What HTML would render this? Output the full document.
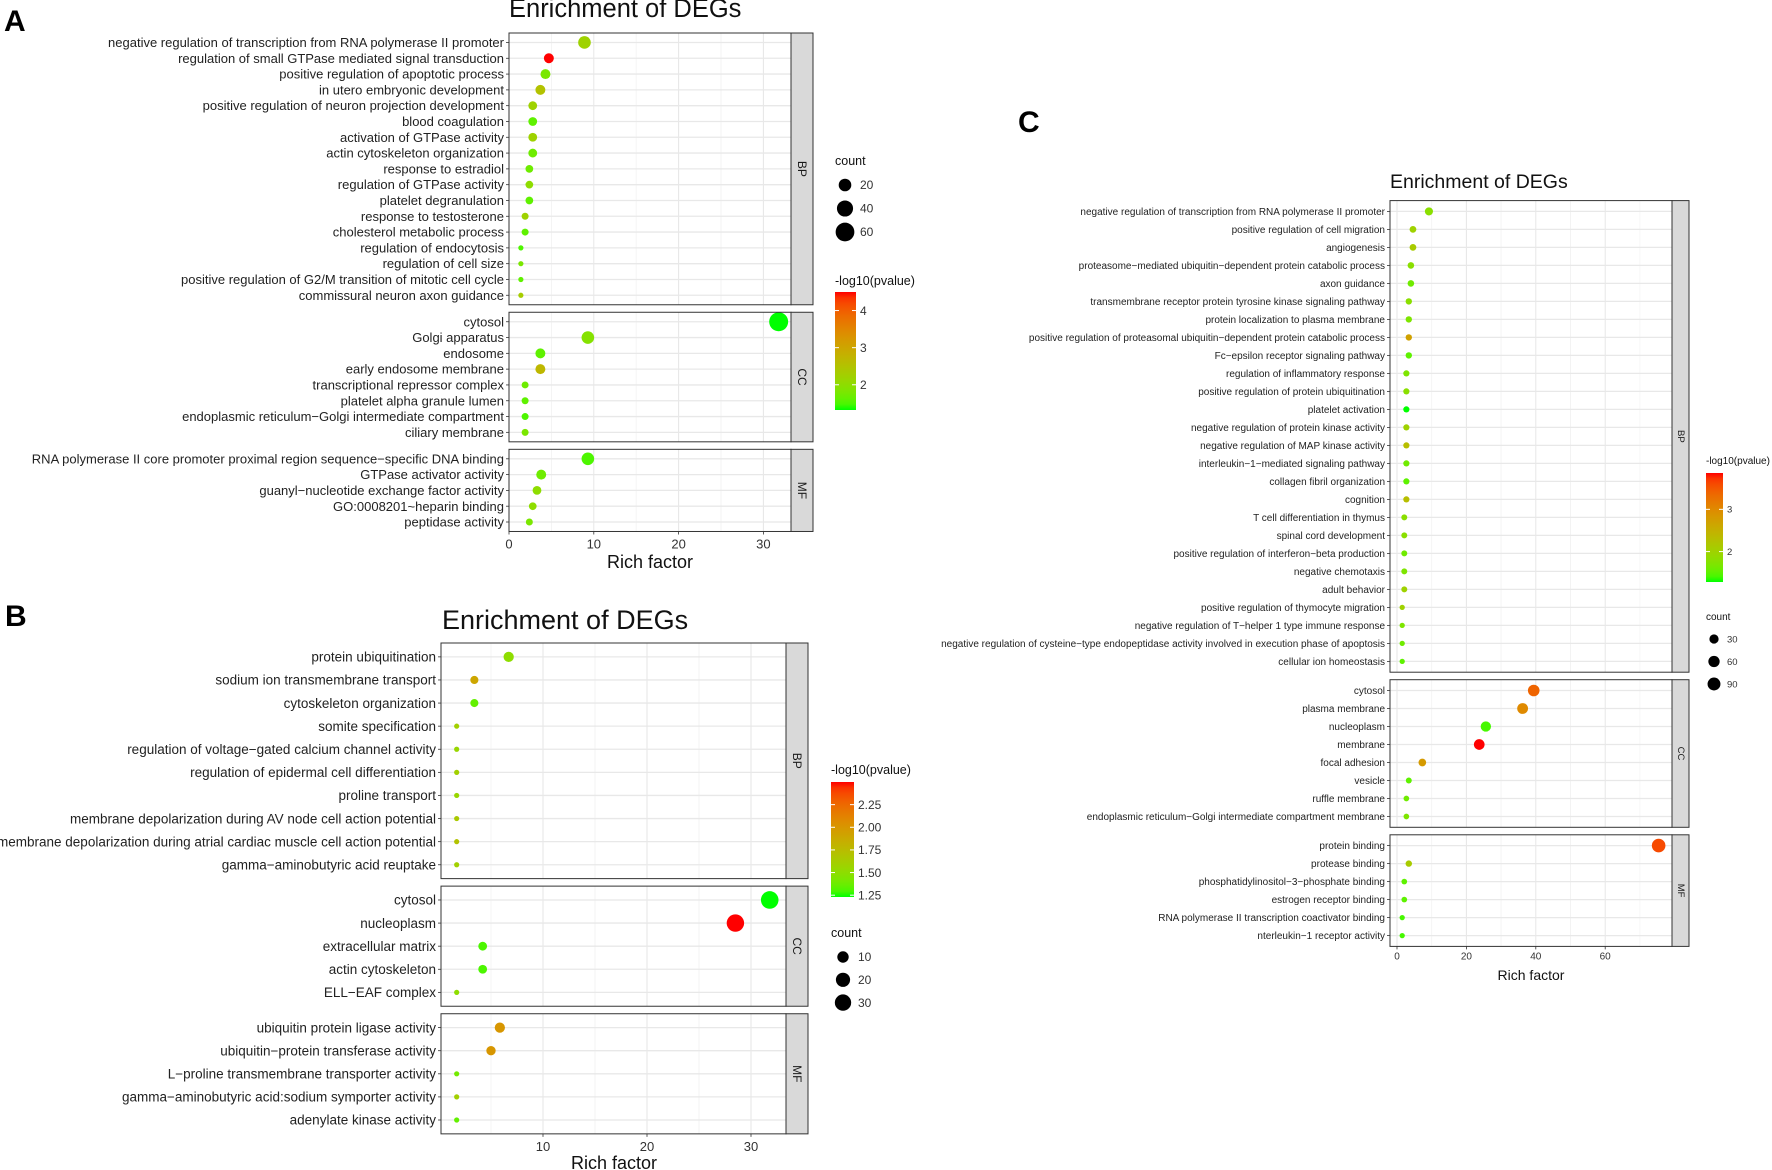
<!DOCTYPE html>
<html><head><meta charset="utf-8"><title>Enrichment of DEGs</title>
<style>html,body{margin:0;padding:0;background:#fff}svg{display:block;font-family:"Liberation Sans",Arial,sans-serif}</style>
</head><body>
<svg id="fig" width="1772" height="1170" viewBox="0 0 1772 1170" xmlns="http://www.w3.org/2000/svg">
<rect width="1772" height="1170" fill="#fff"/>
<text x="4" y="31" font-size="30" font-weight="bold">A</text>
<text x="5" y="626" font-size="30" font-weight="bold">B</text>
<text x="1018" y="132" font-size="30" font-weight="bold">C</text>
</svg>
<script>
// ===== Chart A data =====
const aTerms = ["negative regulation of transcription from RNA polymerase II promoter","regulation of small GTPase mediated signal transduction","positive regulation of apoptotic process","in utero embryonic development","positive regulation of neuron projection development","blood coagulation","activation of GTPase activity","actin cytoskeleton organization","response to estradiol","regulation of GTPase activity","platelet degranulation","response to testosterone","cholesterol metabolic process","regulation of endocytosis","regulation of cell size","positive regulation of G2/M transition of mitotic cell cycle","commissural neuron axon guidance","cytosol","Golgi apparatus","endosome","early endosome membrane","transcriptional repressor complex","platelet alpha granule lumen","endoplasmic reticulum−Golgi intermediate compartment","ciliary membrane","RNA polymerase II core promoter proximal region sequence−specific DNA binding","GTPase activator activity","guanyl−nucleotide exchange factor activity","GO:0008201~heparin binding","peptidase activity"];
const aCategory = ["BP","BP","BP","BP","BP","BP","BP","BP","BP","BP","BP","BP","BP","BP","BP","BP","BP","CC","CC","CC","CC","CC","CC","CC","CC","MF","MF","MF","MF","MF"];
const aRich = [8.9,4.7,4.3,3.7,2.8,2.8,2.8,2.8,2.4,2.4,2.4,1.9,1.9,1.4,1.4,1.4,1.4,31.8,9.3,3.7,3.7,1.9,1.9,1.9,1.9,9.3,3.8,3.3,2.8,2.4];
const aCount = [20,10,10,10,7,7,7,7,5,5,5,4,4,3,3,3,3,62,20,10,10,4,4,4,4,20,10,7,5,4];
const aLogP = [2.2,4.5,1.8,2.5,2.2,1.6,2.2,1.7,1.7,2.0,1.6,2.2,1.6,1.5,1.8,1.6,2.3,1.32,1.9,1.6,2.7,1.7,1.6,1.5,1.8,1.5,1.7,2.0,2.0,1.8];
const aXTicks = [0,10,20,30];
const aColorTicks = [2,3,4];
const aSizeBreaks = [20,40,60];

// ===== Chart B data =====
const bTerms = ["protein ubiquitination","sodium ion transmembrane transport","cytoskeleton organization","somite specification","regulation of voltage−gated calcium channel activity","regulation of epidermal cell differentiation","proline transport","membrane depolarization during AV node cell action potential","membrane depolarization during atrial cardiac muscle cell action potential","gamma−aminobutyric acid reuptake","cytosol","nucleoplasm","extracellular matrix","actin cytoskeleton","ELL−EAF complex","ubiquitin protein ligase activity","ubiquitin−protein transferase activity","L−proline transmembrane transporter activity","gamma−aminobutyric acid:sodium symporter activity","adenylate kinase activity"];
const bCategory = ["BP","BP","BP","BP","BP","BP","BP","BP","BP","BP","CC","CC","CC","CC","CC","MF","MF","MF","MF","MF"];
const bRich = [6.7,3.4,3.4,1.7,1.7,1.7,1.7,1.7,1.7,1.7,31.8,28.5,4.2,4.2,1.7,5.85,5.0,1.7,1.7,1.7];
const bCount = [7,3,3,1,1,1,1,1,1,1,37,36,4,4,1,7,5,1,1,1];
const bLogP = [1.5,1.9,1.35,1.6,1.55,1.6,1.55,1.65,1.7,1.6,1.23,2.5,1.3,1.3,1.5,2.0,2.0,1.4,1.6,1.35];
const bXTicks = [10,20,30];
const bColorTicks = [1.25,1.5,1.75,2.0,2.25];
const bSizeBreaks = [10,20,30];

// ===== Chart C data =====
const cTerms = ["negative regulation of transcription from RNA polymerase II promoter","positive regulation of cell migration","angiogenesis","proteasome−mediated ubiquitin−dependent protein catabolic process","axon guidance","transmembrane receptor protein tyrosine kinase signaling pathway","protein localization to plasma membrane","positive regulation of proteasomal ubiquitin−dependent protein catabolic process","Fc−epsilon receptor signaling pathway","regulation of inflammatory response","positive regulation of protein ubiquitination","platelet activation","negative regulation of protein kinase activity","negative regulation of MAP kinase activity","interleukin−1−mediated signaling pathway","collagen fibril organization","cognition","T cell differentiation in thymus","spinal cord development","positive regulation of interferon−beta production","negative chemotaxis","adult behavior","positive regulation of thymocyte migration","negative regulation of T−helper 1 type immune response","negative regulation of cysteine−type endopeptidase activity involved in execution phase of apoptosis","cellular ion homeostasis","cytosol","plasma membrane","nucleoplasm","membrane","focal adhesion","vesicle","ruffle membrane","endoplasmic reticulum−Golgi intermediate compartment membrane","protein binding","protease binding","phosphatidylinositol−3−phosphate binding","estrogen receptor binding","RNA polymerase II transcription coactivator binding","nterleukin−1 receptor activity"];
const cCategory = ["BP","BP","BP","BP","BP","BP","BP","BP","BP","BP","BP","BP","BP","BP","BP","BP","BP","BP","BP","BP","BP","BP","BP","BP","BP","BP","CC","CC","CC","CC","CC","CC","CC","CC","MF","MF","MF","MF","MF","MF"];
const cRich = [9.2,4.6,4.6,4.0,4.0,3.4,3.4,3.4,3.4,2.7,2.7,2.7,2.7,2.7,2.7,2.7,2.7,2.1,2.1,2.1,2.1,2.1,1.5,1.5,1.5,1.5,39.4,36.2,25.6,23.7,7.3,3.4,2.7,2.7,75.4,3.4,2.1,2.1,1.5,1.5];
const cCount = [18,8,8,7,7,6,6,6,6,5,5,5,5,5,5,5,5,4,4,4,4,4,2,2,2,2,65,52,45,50,14,4,3,3,105,6,3,3,2,2];
const cLogP = [1.8,2.0,2.1,1.8,1.6,1.8,1.7,2.7,1.5,1.7,1.8,1.28,2.0,2.3,1.6,1.5,2.3,1.8,1.8,1.6,1.7,2.0,2.0,1.7,1.6,1.5,3.4,3.0,1.4,3.86,2.8,1.5,1.6,1.7,3.6,2.1,1.5,1.5,1.4,1.4];
const cXTicks = [0,20,40,60];
const cColorTicks = [2,3];
const cSizeBreaks = [30,60,90];

// ===== colour (ggplot green->red gradient in Lab) =====
function srgb2lab(r,g,b){
  const f=c=>{c/=255;return c<=0.04045?c/12.92:Math.pow((c+0.055)/1.055,2.4);};
  const R=f(r),G=f(g),B=f(b);
  let X=(R*0.4124+G*0.3576+B*0.1805)/0.95047,Y=R*0.2126+G*0.7152+B*0.0722,Z=(R*0.0193+G*0.1192+B*0.9505)/1.08883;
  const h=t=>t>0.008856?Math.cbrt(t):7.787*t+16/116;
  return [116*h(Y)-16,500*(h(X)-h(Y)),200*(h(Y)-h(Z))];
}
function lab2hex(L,a,b){
  let fy=(L+16)/116,fx=fy+a/500,fz=fy-b/200;
  const g=t=>t*t*t>0.008856?t*t*t:(t-16/116)/7.787;
  const X=g(fx)*0.95047,Y=g(fy),Z=g(fz)*1.08883;
  let R=X*3.2406+Y*-1.5372+Z*-0.4986,G=X*-0.9689+Y*1.8758+Z*0.0415,B=X*0.0557+Y*-0.2040+Z*1.0570;
  const c=v=>{v=v<=0.0031308?12.92*v:1.055*Math.pow(v,1/2.4)-0.055;return Math.max(0,Math.min(255,Math.round(v*255)));};
  return '#'+[c(R),c(G),c(B)].map(v=>v.toString(16).padStart(2,'0')).join('');
}
const LOW=srgb2lab(0,255,0),HIGH=srgb2lab(255,0,0);
function colorAt(t){t=Math.max(0,Math.min(1,t));return lab2hex(LOW[0]+(HIGH[0]-LOW[0])*t,LOW[1]+(HIGH[1]-LOW[1])*t,LOW[2]+(HIGH[2]-LOW[2])*t);}

const NS='http://www.w3.org/2000/svg';
const svg=document.getElementById('fig');
function mk(tag,attrs,parent){const e=document.createElementNS(NS,tag);for(const k in attrs)e.setAttribute(k,attrs[k]);(parent||svg).appendChild(e);return e;}
function txt(s,attrs,parent){const e=mk('text',attrs,parent);e.textContent=s;return e;}

function drawChart(id,d,L){
  const g=mk('g',{});
  
  
  const xs=v=>L.x0+v*L.ppu;
  const vmin=Math.min(...d.logp),vmax=Math.max(...d.logp);
  const col=v=>colorAt((v-vmin)/(vmax-vmin));
  const rad=c=>L.r0+L.k*Math.sqrt(Math.max(c-L.c0,0));
  const t=txt('Enrichment of DEGs',{x:L.titleX,y:L.titleY,'font-size':L.titleSize,fill:'#111'},g);
  
  
  const facets=['BP','CC','MF'];
  let top=L.top;
  facets.forEach(f=>{
    const idx=[];d.cat.forEach((c,i)=>{if(c===f)idx.push(i);});
    const h=(idx.length+0.2)*L.step;
    const fg=mk('g',{},g);
    
    
    mk('rect',{x:L.px0,y:top,width:L.px1-L.px0,height:h,fill:'#fff'},fg);
    for(let i=0;i<d.xt.length;i++){
      const step=d.xt.length>1?d.xt[1]-d.xt[0]:10;
      [d.xt[i]-step/2,d.xt[i]+step/2].forEach(m=>{const x=xs(m);if(x>L.px0&&x<L.px1)mk('line',{x1:x,x2:x,y1:top,y2:top+h,stroke:'#f3f3f3','stroke-width':0.7},fg);});
    }
    d.xt.forEach(v=>{const x=xs(v);if(x>=L.px0&&x<=L.px1)mk('line',{x1:x,x2:x,y1:top,y2:top+h,stroke:'#e6e6e6','stroke-width':1},fg);});
    idx.forEach((i,j)=>{
      const y=top+0.6*L.step+j*L.step;
      mk('line',{x1:L.px0,x2:L.px1,y1:y,y2:y,stroke:'#e8e8e8','stroke-width':1.3},fg);
      mk('line',{x1:L.px0-3,x2:L.px0,y1:y,y2:y,stroke:'#333','stroke-width':0.8},fg);
      const lb=txt(d.terms[i],{x:L.px0-5,y:y+L.labelSize*0.35,'font-size':L.labelSize,'text-anchor':'end',fill:'#222'},fg);
      
      
    });
    idx.forEach((i,j)=>{
      const y=top+0.6*L.step+j*L.step;
      const c=mk('circle',{cx:xs(d.rich[i]),cy:y,r:rad(d.count[i]),fill:col(d.logp[i])},fg);
      
      
    });
    mk('rect',{x:L.px0,y:top,width:L.px1-L.px0,height:h,fill:'none',stroke:'#333','stroke-width':1},fg);
    const st=mk('rect',{x:L.px1,y:top,width:L.stripW,height:h,fill:'#d9d9d9',stroke:'#333','stroke-width':1},fg);
    
    
    const sx=L.px1+L.stripW/2,sy=top+h/2;
    txt(f,{x:sx,y:sy,'font-size':L.stripSize,'text-anchor':'middle','dominant-baseline':'central',fill:'#1a1a1a',transform:`rotate(90 ${sx} ${sy})`},fg);
    top+=h+L.gap;
  });
  const bottom=top-L.gap;
  d.xt.forEach(v=>{
    const x=xs(v);
    mk('line',{x1:x,x2:x,y1:bottom,y2:bottom+3,stroke:'#333','stroke-width':0.8},g);
    const tl=txt(String(v),{x:x,y:bottom+L.tickLabelDy,'font-size':L.tickSize,'text-anchor':'middle',fill:'#333'},g);
    
    
  });
  const xa=txt('Rich factor',{x:L.xTitleX,y:L.xTitleY,'font-size':L.xTitleSize,'text-anchor':'middle',fill:'#111'},g);
  
  
  const cg=mk('g',{},g);
  
  
  txt('-log10(pvalue)',{x:L.cbX,y:L.cbTitleY,'font-size':L.legSize,fill:'#111'},cg);
  const gid=id+'grad';
  const lg=mk('linearGradient',{id:gid,x1:0,y1:1,x2:0,y2:0},mk('defs',{},cg));
  for(let s=0;s<=20;s++)mk('stop',{offset:(s/20),'stop-color':colorAt(s/20)},lg);
  mk('rect',{x:L.cbX,y:L.cbTop,width:L.cbW,height:L.cbBot-L.cbTop,fill:`url(#${gid})`},cg);
  d.ct.forEach(v=>{
    const y=L.cbBot-(v-vmin)/(vmax-vmin)*(L.cbBot-L.cbTop);
    mk('line',{x1:L.cbX,x2:L.cbX+4,y1:y,y2:y,stroke:'#fff','stroke-width':1},cg);
    mk('line',{x1:L.cbX+L.cbW-4,x2:L.cbX+L.cbW,y1:y,y2:y,stroke:'#fff','stroke-width':1},cg);
    txt(d.ctl?d.ctl(v):String(v),{x:L.cbX+L.cbW+4,y:y+L.legLabSize*0.35,'font-size':L.legLabSize,fill:'#333'},cg);
  });
  const sg=mk('g',{},g);
  
  
  txt('count',{x:L.cbX,y:L.szTitleY,'font-size':L.legSize,fill:'#111'},sg);
  d.sb.forEach((v,i)=>{
    const y=L.szY0+i*L.szStep;
    mk('circle',{cx:L.szX,cy:y,r:rad(v),fill:'#000'},sg);
    txt(String(v),{x:L.szLabX,y:y+L.legLabSize*0.35,'font-size':L.legLabSize,fill:'#333'},sg);
  });
}

drawChart('chart-a',{terms:aTerms,cat:aCategory,rich:aRich,count:aCount,logp:aLogP,xt:aXTicks,ct:aColorTicks,sb:aSizeBreaks},
 {x0:509,ppu:8.48,px0:509,px1:791,stripW:22,top:33,step:15.8,gap:7.5,labelSize:13,stripSize:12,
  titleX:509,titleY:17,titleSize:25.5,tickLabelDy:17,tickSize:13,xTitleX:650,xTitleY:568,xTitleSize:18,
  r0:2.6,k:0.897,c0:3,cbX:835,cbW:21,cbTop:292,cbBot:410,cbTitleY:285,legSize:12.5,legLabSize:12,
  szTitleY:165,szX:845,szLabX:860,szY0:185,szStep:23.5});
drawChart('chart-b',{terms:bTerms,cat:bCategory,rich:bRich,count:bCount,logp:bLogP,xt:bXTicks,ct:bColorTicks,sb:bSizeBreaks,ctl:v=>v.toFixed(2)},
 {x0:439,ppu:10.4,px0:441,px1:786,stripW:22,top:643,step:23.1,gap:7.5,labelSize:13.5,stripSize:12,
  titleX:442,titleY:629,titleSize:27,tickLabelDy:17,tickSize:13,xTitleX:614,xTitleY:1169,xTitleSize:18,
  r0:2.6,k:1.033,c0:1,cbX:831,cbW:23,cbTop:782,cbBot:897,cbTitleY:774,legSize:12.5,legLabSize:12,
  szTitleY:937,szX:843,szLabX:858,szY0:957,szStep:22.8});
drawChart('chart-c',{terms:cTerms,cat:cCategory,rich:cRich,count:cCount,logp:cLogP,xt:cXTicks,ct:cColorTicks,sb:cSizeBreaks},
 {x0:1397,ppu:3.47,px0:1390,px1:1672,stripW:17,top:200.6,step:18.0,gap:7.5,labelSize:10,stripSize:9.5,
  titleX:1390,titleY:188,titleSize:19.5,tickLabelDy:13,tickSize:10,xTitleX:1531,xTitleY:980,xTitleSize:14,
  r0:2.2,k:0.45,c0:1,cbX:1706,cbW:17,cbTop:473,cbBot:582,cbTitleY:464,legSize:10,legLabSize:9.5,
  szTitleY:620,szX:1714,szLabX:1727,szY0:639,szStep:22.5});
</script>
</body></html>
